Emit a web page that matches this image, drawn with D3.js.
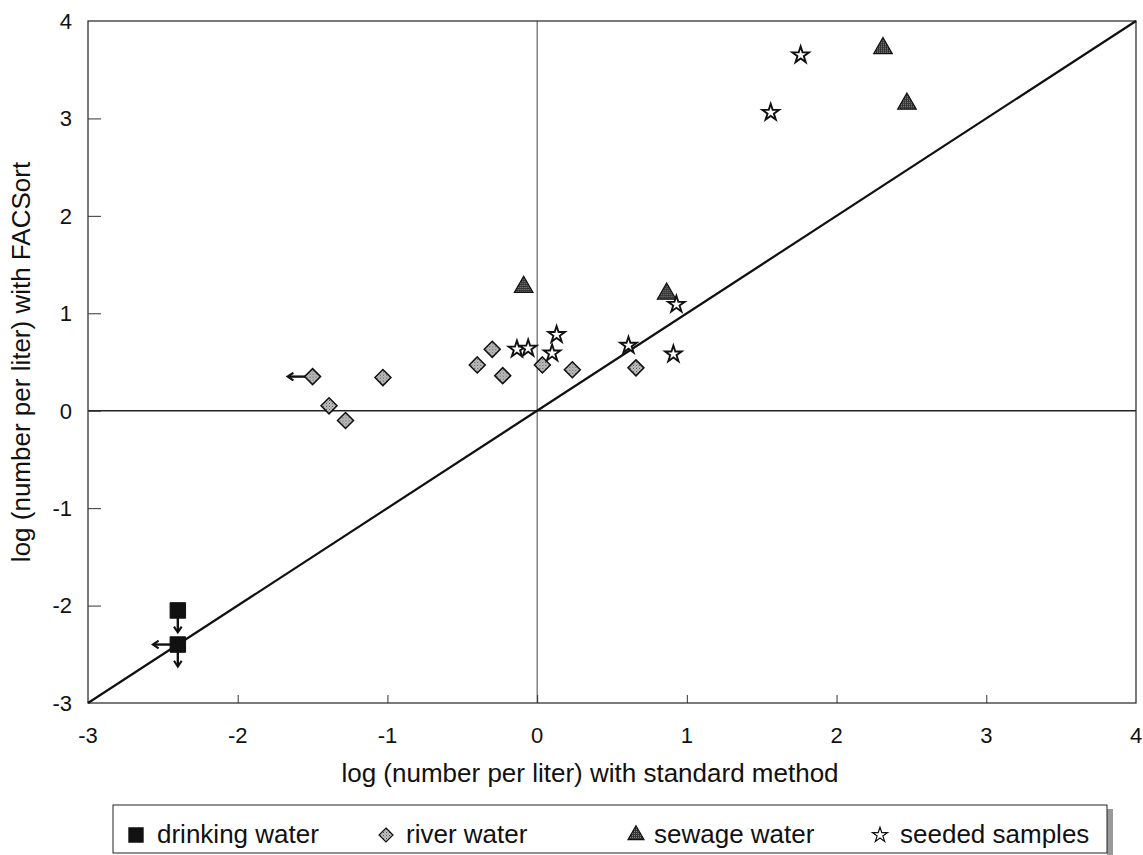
<!DOCTYPE html>
<html lang="en">
<head>
<meta charset="utf-8">
<title>FACSort vs standard method</title>
<script src="https://d3js.org/d3.v7.min.js"></script>
<style>
  body { margin: 0; background: #fff; }
  text { font-family: "Liberation Sans", Arial, Helvetica, sans-serif; fill: #111; }
</style>
</head>
<body>
<svg id="chart" width="1143" height="855"></svg>
<script>
    // values (log number per liter)
    const drinkingX = [-2.40, -2.40];
    const drinkingY = [-2.05, -2.40];
    const riverX = [-1.50, -1.39, -1.28, -1.03, -0.40, -0.30, -0.23, 0.035, 0.235, 0.66];
    const riverY = [0.35, 0.05, -0.10, 0.34, 0.47, 0.63, 0.36, 0.47, 0.42, 0.44];
    const sewageX = [-0.09, 0.865, 2.31, 2.47];
    const sewageY = [1.27, 1.20, 3.72, 3.15];
    const seededX = [-0.135, -0.06, 0.10, 0.13, 0.61, 0.91, 0.93, 1.56, 1.76];
    const seededY = [0.63, 0.64, 0.59, 0.78, 0.67, 0.58, 1.09, 3.06, 3.65];
    // censored values: [x, y, direction]
    const censored = [[-2.40, -2.05, 'down'], [-2.40, -2.40, 'down'], [-2.40, -2.40, 'left'], [-1.50, 0.35, 'left']];
    const ticks = [-3, -2, -1, 0, 1, 2, 3, 4];
    const legendNames = ['drinking water', 'river water', 'sewage water', 'seeded samples'];

    const svg = d3.select('#chart');
    const x = d3.scaleLinear().domain([-3, 4]).range([88, 1136]);
    const y = d3.scaleLinear().domain([-3, 4]).range([703, 21]);

    // fill patterns like the halftone of the print
    const defs = svg.append('defs');
    let p1 = defs.append('pattern').attr('id', 'hatchLight').attr('width', 3).attr('height', 3)
        .attr('patternUnits', 'userSpaceOnUse');
    p1.append('rect').attr('width', 3).attr('height', 3).attr('fill', '#c4c4c4');
    p1.append('rect').attr('width', 1).attr('height', 1).attr('fill', '#444');
    p1.append('rect').attr('x', 1.5).attr('y', 1.5).attr('width', 1).attr('height', 1).attr('fill', '#666');
    let p2 = defs.append('pattern').attr('id', 'hatchDark').attr('width', 2).attr('height', 2)
        .attr('patternUnits', 'userSpaceOnUse');
    p2.append('rect').attr('width', 2).attr('height', 2).attr('fill', '#333');
    p2.append('rect').attr('width', 1).attr('height', 1).attr('fill', '#888');
    defs.append('marker').attr('id', 'arrow').attr('viewBox', '0 0 10 10')
        .attr('refX', 6).attr('refY', 5).attr('markerWidth', 4).attr('markerHeight', 4)
        .attr('orient', 'auto')
        .append('path').attr('d', 'M1,1 L7,5 L1,9').attr('fill', 'none')
        .attr('stroke', '#111').attr('stroke-width', 2.2);

    // frame
    svg.append('rect').attr('x', x(-3)).attr('y', y(4))
        .attr('width', x(4) - x(-3)).attr('height', y(-3) - y(4))
        .attr('fill', 'none').attr('stroke', '#222').attr('stroke-width', 1.2);

    // zero lines
    svg.append('line').attr('x1', x(0)).attr('x2', x(0)).attr('y1', y(4)).attr('y2', y(-3))
        .attr('stroke', '#444').attr('stroke-width', 1);
    svg.append('line').attr('x1', x(-3)).attr('x2', x(4)).attr('y1', y(0)).attr('y2', y(0))
        .attr('stroke', '#222').attr('stroke-width', 1.5);

    // axes with inward ticks
    svg.append('g').attr('transform', `translate(${x(-3)},0)`)
        .call(d3.axisRight(y).tickValues(ticks.slice(1, -1)).tickSize(13).tickFormat(''))
        .call(g => g.select('.domain').remove());
    svg.append('g').attr('transform', `translate(0,${y(-3)})`)
        .call(d3.axisTop(x).tickValues(ticks.slice(1, -1)).tickSize(8).tickFormat(''))
        .call(g => g.select('.domain').remove());
    svg.selectAll('.tick line').attr('stroke', '#333');

    svg.append('g').selectAll('text').data(ticks).enter().append('text')
        .attr('x', 72).attr('y', d => y(d)).attr('dy', '0.36em')
        .attr('text-anchor', 'end').attr('font-size', 22).text(d => d);
    svg.append('g').selectAll('text').data(ticks).enter().append('text')
        .attr('x', d => x(d)).attr('y', 743)
        .attr('text-anchor', 'middle').attr('font-size', 22).text(d => d);

    svg.append('text').attr('x', 590).attr('y', 782).attr('text-anchor', 'middle')
        .attr('font-size', 26).text('log (number per liter) with standard method');
    svg.append('text').attr('transform', 'translate(30,362) rotate(-90)').attr('text-anchor', 'middle')
        .attr('font-size', 26).text('log (number per liter) with FACSort');

    // 1:1 line
    svg.append('line').attr('x1', x(-3)).attr('y1', y(-3)).attr('x2', x(4)).attr('y2', y(4))
        .attr('stroke', '#111').attr('stroke-width', 2.2);

    // arrows for values below detection
    svg.append('g').selectAll('line').data(censored).enter().append('line')
        .attr('x1', d => x(d[0])).attr('y1', d => y(d[1]))
        .attr('x2', d => d[2] == 'left' ? x(d[0]) - 24 : x(d[0]))
        .attr('y2', d => d[2] == 'down' ? y(d[1]) + 21 : y(d[1]))
        .attr('stroke', '#111').attr('stroke-width', 2.4).attr('marker-end', 'url(#arrow)');

    const diamond = s => `M0,${-s}L${s},0L0,${s}L${-s},0Z`;
    const sym = {
        square: d3.symbol(d3.symbolSquare, 240)(),
        diamond: diamond(8),
        triangle: d3.symbol(d3.symbolTriangle, 150)(),
        star: d3.symbol(d3.symbolStar, 85)()
    };

    function plot(xs, ys, path, fill, sw) {
        svg.append('g').selectAll('path').data(xs.map((v, i) => [v, ys[i]])).enter().append('path')
            .attr('transform', d => `translate(${x(d[0])},${y(d[1])})`)
            .attr('d', path).attr('fill', fill).attr('stroke', '#111').attr('stroke-width', sw);
    }
    plot(drinkingX, drinkingY, sym.square, '#111', 1);
    plot(riverX, riverY, sym.diamond, 'url(#hatchLight)', 1.5);
    plot(sewageX, sewageY, sym.triangle, 'url(#hatchDark)', 1.2);
    plot(seededX, seededY, sym.star, '#fff', 1.9);

    // legend box with a shaded right edge
    svg.append('rect').attr('x', 1107).attr('y', 809).attr('width', 6).attr('height', 46)
        .attr('fill', '#999');
    svg.append('rect').attr('x', 113).attr('y', 805).attr('width', 994).attr('height', 48)
        .attr('fill', '#fff').attr('stroke', '#222').attr('stroke-width', 1);

    const legendX = [136, 386, 636, 880];
    const legendGap = [21, 20, 18, 20];
    const legendSym = [d3.symbol(d3.symbolSquare, 200)(), diamond(7), d3.symbol(d3.symbolTriangle, 110)(),
        d3.symbol(d3.symbolStar, 70)()];
    const legendFill = ['#111', 'url(#hatchLight)', 'url(#hatchDark)', '#fff'];
    legendNames.forEach((name, i) => {
        svg.append('path').attr('transform', `translate(${legendX[i]},835)`)
            .attr('d', legendSym[i]).attr('fill', legendFill[i]).attr('stroke', '#111').attr('stroke-width', 1.2);
        svg.append('text').attr('x', legendX[i] + legendGap[i]).attr('y', 843).attr('font-size', 26).text(name);
    });
</script>
</body>
</html>
